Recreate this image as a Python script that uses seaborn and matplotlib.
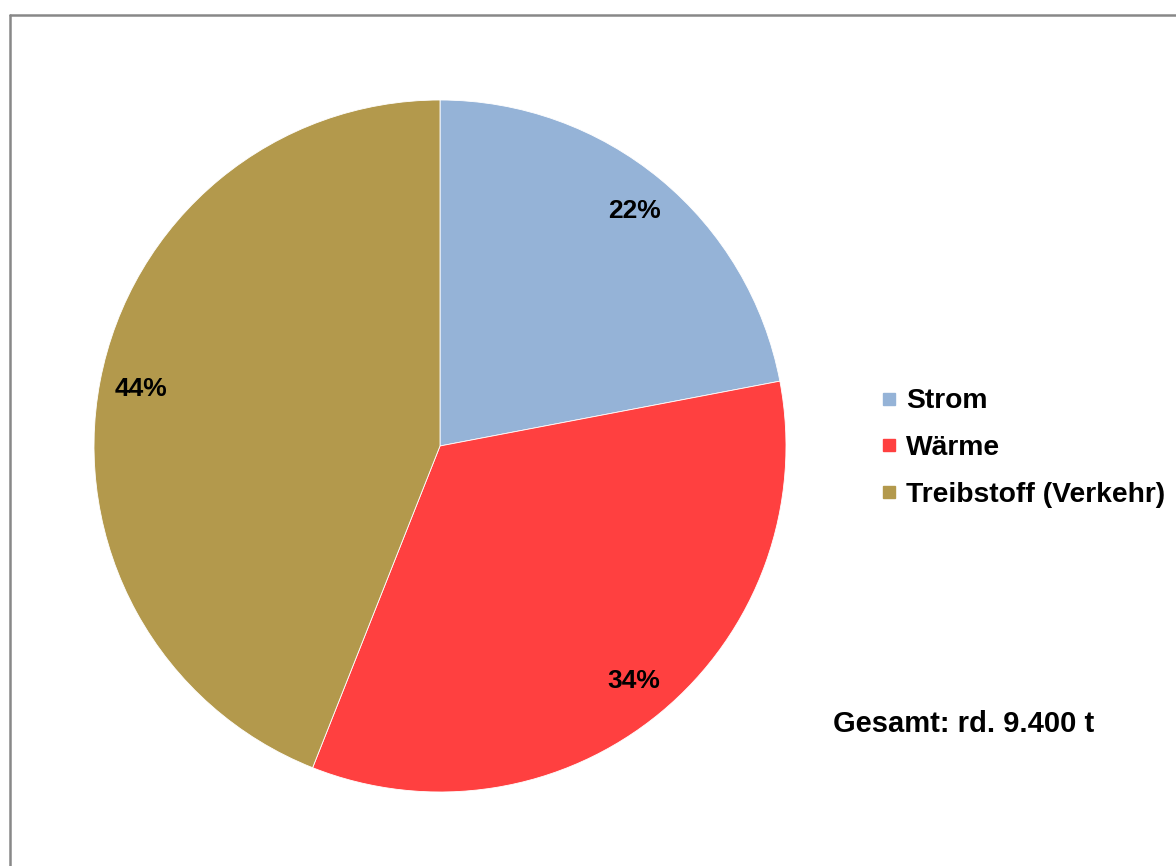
import matplotlib
matplotlib.use("Agg")
import matplotlib.pyplot as plt
from matplotlib.lines import Line2D
import seaborn as sns

# Anteile am Gesamtaufkommen
categories = ["Strom", "Wärme", "Treibstoff (Verkehr)"]
shares = [22, 34, 44]
pct_labels = ["22%", "34%", "44%"]
total_note = "Gesamt: rd. 9.400 t"

sns.set_theme(style="white")
plt.rcParams["font.family"] = ["Liberation Sans", "DejaVu Sans"]
plt.rcParams["font.weight"] = "bold"
plt.rcParams["text.color"] = "black"

colors = sns.color_palette(["#95B3D7", "#FF4040", "#B3994C"])

W, H = 1176, 866
fig = plt.figure(figsize=(W / 100, H / 100), dpi=100)
fig.patch.set_facecolor("white")

# pie axes: centre (440, 446) px, radius 346 px
cx, cy, r = 440, 446, 346
ax = fig.add_axes([(cx - r) / W, (H - cy - r) / H, 2 * r / W, 2 * r / H])
wedges, texts = ax.pie(
    shares,
    colors=colors,
    startangle=90,
    counterclock=False,
    labels=pct_labels,
    labeldistance=0.88,
    wedgeprops=dict(edgecolor="white", linewidth=0.6),
    textprops=dict(fontsize=19, fontweight="bold", color="black",
                   ha="center", va="center"),
)
for t in texts:
    t.set_horizontalalignment("center")
ax.set_xlim(-1, 1)
ax.set_ylim(-1, 1)
ax.axis("off")

# legend with small square keys
handles = [Line2D([0], [0], marker="s", linestyle="none", markersize=8,
                  markerfacecolor=c, markeredgecolor=c) for c in colors]
leg = fig.legend(handles, categories, loc="center left",
                 bbox_to_anchor=(881 / W, 1 - 448 / H),
                 frameon=False, handlelength=0.6, handletextpad=0.3,
                 labelspacing=0.73, borderpad=0, borderaxespad=0,
                 prop=dict(family="Liberation Sans", weight="bold", size=20.3))
for t in leg.get_texts():
    t.set_color("black")

fig.text(833 / W, 1 - 724 / H, total_note, ha="left", va="center",
         fontsize=21, fontweight="bold", color="black")

# outer frame (top and left edges)
frame_kw = dict(color="#888888", linewidth=1.8, transform=fig.transFigure)
fig.add_artist(Line2D([10 / W, 1.0], [1 - 15 / H, 1 - 15 / H], **frame_kw))
fig.add_artist(Line2D([10 / W, 10 / W], [0.0, 1 - 15 / H], **frame_kw))

fig.savefig("out.png", dpi=100, facecolor="white")
